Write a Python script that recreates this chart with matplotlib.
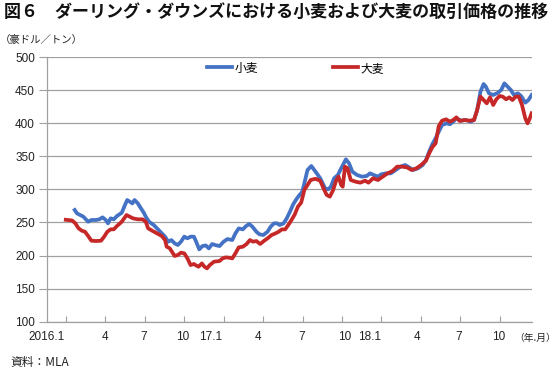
import matplotlib
matplotlib.use("Agg")
import matplotlib.pyplot as plt
from matplotlib.ticker import FixedLocator, NullFormatter

plt.rcParams['font.family'] = ['Liberation Sans', 'Noto Sans CJK JP', 'DejaVu Sans']

# x = months elapsed since start of Jan 2016
wheat_x = [0.68, 0.85, 1.09, 1.34, 1.70, 1.95, 2.31, 2.55, 2.80, 3.04, 3.21, 3.41, 3.65, 3.89,
           4.26, 4.50, 4.67, 4.87, 5.06, 5.23, 5.48, 5.72, 5.96, 6.08, 6.33, 6.69, 7.18, 7.55,
           7.79, 8.03, 8.28, 8.52, 8.76, 9.01, 9.25, 9.49, 9.74, 9.86, 10.15, 10.39, 10.64,
           10.88, 11.13, 11.37, 11.69, 12.00, 12.29, 12.66, 12.90, 13.15, 13.46, 13.71, 13.95,
           14.19, 14.49, 14.73, 15.02, 15.34, 15.58, 15.83, 16.07, 16.26, 16.56, 16.80, 17.04,
           17.29, 17.53, 17.77, 17.97, 18.09, 18.26, 18.38, 18.67, 18.99, 19.35, 19.72, 19.96,
           20.16, 20.40, 20.69, 20.94, 21.30, 21.54, 21.79, 22.15, 22.52, 22.88, 23.13, 23.42,
           23.74, 23.98, 24.34, 24.71, 25.08, 25.44, 25.81, 26.10, 26.41, 26.78, 27.14, 27.39,
           27.63, 27.88, 28.12, 28.36, 28.61, 28.97, 29.21, 29.46, 29.70, 30.07, 30.43, 30.80,
           31.04, 31.28, 31.53, 31.77, 31.94, 32.18, 32.50, 32.87, 33.11, 33.35, 33.60, 33.84,
           34.08, 34.38, 34.62, 34.94, 35.18, 35.42]
wheat_y = [268.8, 263.7, 261.2, 258.7, 251.1, 253.7, 253.7, 254.7, 257.7, 253.7, 248.6, 256.2,
           254.7, 259.7, 264.7, 276.3, 283.9, 281.4, 278.8, 283.9, 278.8, 271.3, 263.7, 258.7,
           251.1, 246.1, 236.0, 228.5, 220.9, 223.4, 218.4, 215.9, 220.9, 228.5, 226.0, 228.5,
           228.5, 223.4, 209.3, 214.3, 215.3, 210.8, 217.4, 215.8, 214.3, 220.9, 224.9, 223.4,
           233.5, 241.0, 239.5, 244.6, 247.6, 243.6, 236.0, 232.0, 231.0, 236.0, 243.6, 248.6,
           248.6, 246.1, 248.6, 256.1, 266.0, 277.3, 285.0, 291.4, 296.0, 305.0, 319.1, 329.2,
           335.3, 326.7, 316.7, 301.5, 300.0, 304.1, 316.7, 321.7, 331.8, 345.4, 339.3, 326.7,
           321.7, 319.2, 320.2, 324.2, 321.7, 319.2, 322.7, 324.2, 324.2, 329.2, 334.3, 336.8,
           333.3, 329.2, 331.8, 336.8, 344.4, 357.0, 368.5, 377.1, 387.2, 397.3, 399.8, 398.3,
           402.3, 407.3, 403.8, 404.8, 402.3, 404.8, 419.9, 447.6, 459.2, 455.2, 445.1, 442.6,
           446.1, 450.2, 460.2, 455.2, 450.2, 442.6, 445.1, 441.1, 431.0, 435.0, 442.6]

barley_x = [0.0, 0.48, 0.73, 0.97, 1.22, 1.46, 1.70, 1.95, 2.31, 2.68, 2.92, 3.16, 3.41, 3.65,
            3.89, 4.26, 4.62, 4.87, 5.11, 5.48, 5.84, 6.08, 6.26, 6.57, 6.94, 7.30, 7.55, 7.67,
            7.91, 8.28, 8.52, 8.76, 9.01, 9.25, 9.49, 9.74, 9.86, 10.10, 10.35, 10.54, 10.74,
            10.95, 11.27, 11.69, 11.93, 12.17, 12.42, 12.66, 12.90, 13.15, 13.46, 13.75, 14.00,
            14.24, 14.49, 14.78, 15.09, 15.34, 15.65, 15.95, 16.19, 16.43, 16.68, 16.92, 17.16,
            17.41, 17.65, 17.90, 18.14, 18.38, 18.62, 18.99, 19.35, 19.60, 19.84, 20.08, 20.33,
            20.57, 20.74, 20.94, 21.06, 21.23, 21.42, 21.67, 22.03, 22.40, 22.76, 23.01, 23.37,
            23.74, 24.10, 24.47, 24.83, 25.20, 25.56, 25.93, 26.29, 26.66, 27.02, 27.39, 27.63,
            27.88, 28.12, 28.36, 28.61, 28.92, 29.21, 29.46, 29.70, 29.95, 30.31, 30.68, 31.04,
            31.28, 31.53, 31.77, 32.01, 32.26, 32.50, 32.74, 32.99, 33.23, 33.48, 33.72, 33.96,
            34.21, 34.45, 34.69, 34.94, 35.11, 35.25, 35.42]
barley_y = [254.0, 253.0, 248.6, 241.1, 237.5, 236.0, 229.5, 222.4, 221.9, 222.4, 228.5, 236.0,
            239.6, 239.6, 244.6, 251.1, 261.2, 258.7, 256.2, 254.7, 254.7, 251.1, 241.1, 237.5,
            233.5, 229.5, 223.4, 213.4, 210.8, 199.3, 200.8, 204.3, 203.3, 195.7, 185.6, 187.2,
            185.6, 183.1, 188.1, 183.1, 180.6, 185.6, 190.7, 191.7, 195.7, 197.2, 196.7, 195.7,
            203.3, 212.3, 213.3, 217.4, 223.4, 220.9, 221.9, 217.4, 222.4, 225.9, 231.0, 233.5,
            236.0, 239.5, 239.5, 246.1, 253.6, 262.0, 273.8, 280.0, 299.0, 306.6, 314.1, 316.0,
            313.0, 301.5, 291.5, 289.0, 299.0, 314.1, 319.2, 306.6, 304.1, 334.3, 331.8, 314.1,
            311.6, 310.1, 313.1, 310.1, 316.7, 314.1, 319.2, 324.2, 327.5, 334.3, 334.3, 333.3,
            329.3, 331.8, 336.8, 343.4, 354.4, 364.0, 369.5, 395.7, 403.8, 405.8, 402.3, 404.8,
            408.8, 403.3, 404.8, 403.8, 404.8, 419.9, 440.1, 435.0, 430.0, 439.1, 427.5, 436.1,
            441.1, 440.1, 436.1, 439.1, 435.0, 440.1, 440.1, 427.5, 407.3, 399.8, 405.8, 414.9]

series_names = ['小麦', '大麦']
yticks = [100, 150, 200, 250, 300, 350, 400, 450, 500]
xtick_marks = [0, 3, 6, 9, 12, 15, 18, 21, 24, 27, 30, 33]
xlabel_pos = [-1.45, 2.95, 5.94, 8.88, 11.05, 14.6, 17.9, 21.2, 23.1, 26.7, 29.9, 32.9]
xlabels = ['2016.1', '4', '7', '10', '17.1', '4', '7', '10', '18.1', '4', '7', '10']

fig = plt.figure(figsize=(5.58, 3.69), dpi=100)
ax = fig.add_axes([0.0837, 0.1282, 0.8697, 0.7173])

blue = '#4472C4'
red = '#C62828'
ax.plot(wheat_x, wheat_y, color=blue, lw=2.7, label=series_names[0], solid_joinstyle='round', zorder=3)
ax.plot(barley_x, barley_y, color=red, lw=2.7, label=series_names[1], solid_joinstyle='round', zorder=4)

ax.set_xlim(0, 35.45)
ax.set_ylim(100, 500)

grid_c = '#a0a0a0'
ax.set_yticks(yticks)
ax.set_yticklabels([str(v) for v in yticks], fontsize=8.5, color='#222222')
ax.tick_params(axis='y', length=6, width=0.8, color=grid_c, pad=2.5)
ax.yaxis.grid(True, color=grid_c, lw=0.9)
ax.set_axisbelow(True)

ax.xaxis.set_minor_locator(FixedLocator(xtick_marks))
ax.xaxis.set_minor_formatter(NullFormatter())
ax.set_xticks(xlabel_pos)
ax.set_xticklabels(xlabels, fontsize=8.5, color='#222222')
ax.tick_params(axis='x', which='major', length=0, pad=7)
ax.tick_params(axis='x', which='minor', direction='in', length=4, width=0.8, color=grid_c)

for s in ['top', 'right']:
    ax.spines[s].set_visible(False)
for s in ['left', 'bottom']:
    ax.spines[s].set_color(grid_c)
    ax.spines[s].set_linewidth(0.9)

leg = ax.legend(loc='center', bbox_to_anchor=(0.513, 0.958), ncol=2, frameon=False,
                handlelength=2.1, handletextpad=0.25, columnspacing=6.3,
                borderpad=0, prop={'family': ['Noto Sans CJK JP'], 'size': 8.5})

fig.text(0.008, 0.967, '図６　ダーリング・ダウンズにおける小麦および大麦の取引価格の推移',
         fontsize=12.25, fontweight='bold', family=['Noto Sans CJK JP'], va='center', ha='left',
         color='#111111')
fig.text(0.0, 0.892, '（豪ドル／トン）', fontsize=7.5, family=['Noto Sans CJK JP'],
         va='center', ha='left', color='#222222')
fig.text(0.997, 0.084, '（年.月）', fontsize=7, family=['Noto Sans CJK JP'],
         va='center', ha='right', color='#222222')
fig.text(0.018, 0.017, '資料：MLA', fontsize=8.5, family=['Noto Sans CJK JP'],
         va='center', ha='left', color='#222222')

fig.savefig('out.png', dpi=100)
